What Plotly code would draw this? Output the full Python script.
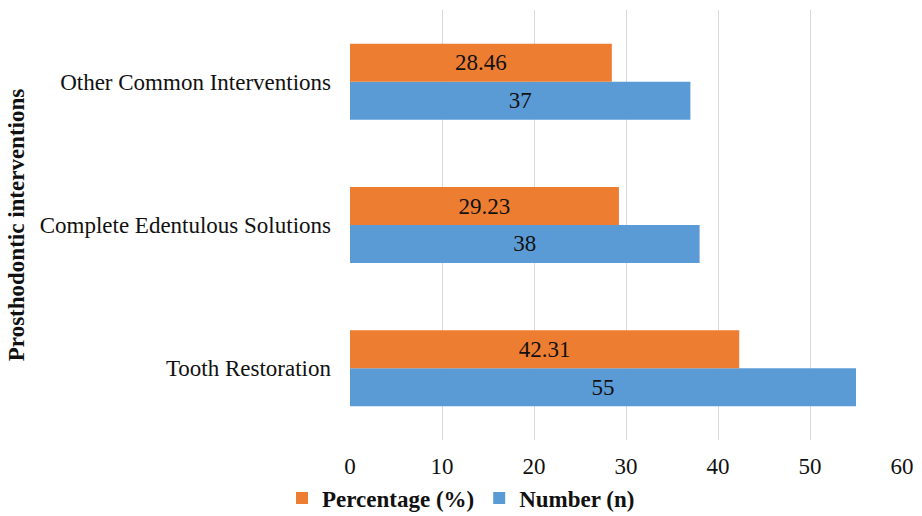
import plotly.graph_objects as go

categories = ["Tooth Restoration", "Complete Edentulous Solutions", "Other Common Interventions"]
number_n = [55, 38, 37]
percentage = [42.31, 29.23, 28.46]
x_ticks = [0, 10, 20, 30, 40, 50, 60]

FONT = "Liberation Serif, Times New Roman, serif"
SIZE = 23

fig = go.Figure()
fig.add_trace(go.Bar(
    y=categories, x=number_n, orientation="h", name="Number (n)",
    marker=dict(color="#5B9BD5", line=dict(width=0)),
    text=[str(v) for v in number_n], textposition="inside",
    insidetextanchor="middle", textangle=0,
    textfont=dict(family=FONT, size=SIZE, color="#111111"),
))
fig.add_trace(go.Bar(
    y=categories, x=percentage, orientation="h", name="Percentage (%)",
    marker=dict(color="#ED7D31", line=dict(width=0)),
    text=[f"{v:.2f}" for v in percentage], textposition="inside",
    insidetextanchor="middle", textangle=0,
    textfont=dict(family=FONT, size=SIZE, color="#111111"),
))

fig.update_layout(
    width=922, height=516,
    margin=dict(l=350, r=20, t=10, b=76, autoexpand=False),
    paper_bgcolor="white", plot_bgcolor="white",
    barmode="group", bargap=0.47, bargroupgap=0,
    font=dict(family=FONT, size=SIZE, color="#111111"),
    showlegend=True,
    legend=dict(
        orientation="h", traceorder="reversed",
        xref="container", yref="container",
        x=0.5, xanchor="center", y=0.035, yanchor="middle",
        font=dict(family=FONT, size=SIZE, color="#111111", weight="bold"),
        itemwidth=30,
    ),
    uniformtext=dict(mode="show", minsize=SIZE),
)
fig.update_xaxes(
    range=[0, 60], tickvals=x_ticks, ticktext=[str(t) for t in x_ticks],
    showgrid=True, gridcolor="#D9D9D9", gridwidth=1,
    zeroline=False, showline=False, ticks="",
    ticklabelstandoff=10, automargin=False,
    tickfont=dict(family=FONT, size=SIZE, color="#111111"),
)
fig.update_yaxes(
    showgrid=False, zeroline=False, showline=False, ticks="",
    ticklabelstandoff=18, automargin=False,
    tickfont=dict(family=FONT, size=SIZE, color="#111111"),
    title=dict(text="Prosthodontic interventions",
               font=dict(family=FONT, size=SIZE, color="#111111", weight="bold"),
               standoff=8),
)

fig.write_html("out.html")
